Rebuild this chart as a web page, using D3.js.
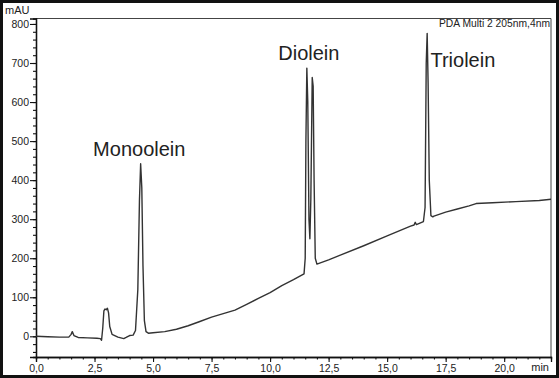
<!DOCTYPE html>
<html>
<head>
<meta charset="utf-8">
<script src="https://cdn.jsdelivr.net/npm/d3@7"></script>
<style>
	body { margin: 0; background: #fff; }
	svg { display: block; }
</style>
</head>
<body>
<svg id="svgChart"></svg>
<script>
// Chromatogram data (time in min, signal in mAU)
var times = [
	0.0, 0.5, 1.0, 1.4, 1.5, 1.55, 1.62, 1.8, 2.2, 2.6, 2.75, 2.8, 2.85, 2.9, 2.95, 3.0, 3.05, 3.1, 3.15, 3.25,
	3.5, 3.75, 3.85, 4.0, 4.15, 4.25, 4.35, 4.42, 4.47, 4.52, 4.57, 4.63, 4.7, 4.8, 5.0, 5.5, 6.0, 6.5, 7.0, 7.5,
	8.0, 8.5, 9.0, 9.5, 10.0, 10.5, 11.0, 11.45, 11.5, 11.53, 11.57, 11.61, 11.66, 11.7, 11.74, 11.8, 11.84, 11.88, 11.93, 12.0,
	12.5, 13.0, 14.0, 15.0, 16.0, 16.15, 16.2, 16.25, 16.55, 16.62, 16.67, 16.71, 16.75, 16.8, 16.87, 16.95, 17.0, 17.5, 18.0, 18.5,
	18.8, 19.5, 20.5, 21.5, 22.0
];
var signal = [
	0, -1, -2, -2, 5, 12, 2, -3, -4, -5, -6, -10, 20, 65, 70, 68, 72, 60, 25, 5,
	-2, -6, -3, 2, 3, 15, 120, 350, 442, 380, 180, 40, 12, 8, 9, 12, 18, 27, 38, 49,
	58, 67, 82, 97, 112, 130, 145, 160, 200, 500, 687, 600, 300, 250, 350, 663, 640, 400, 200, 185,
	196, 208, 232, 257, 282, 285, 292, 286, 294, 330, 700, 776, 650, 400, 309, 306, 308, 318, 326, 334,
	340, 342, 345, 348, 351
];

// Axis ticks
var xTicks = [0, 2.5, 5, 7.5, 10, 12.5, 15, 17.5, 20];
var yTicks = [0, 100, 200, 300, 400, 500, 600, 700, 800];

// Peak labels
var peakNames = ["Monoolein", "Diolein", "Triolein"];
var peakLabelX = [2.44, 10.35, 16.85];
var peakLabelY = [463, 708, 690];

var chart = { "width": 559, "height": 378 };

chart.draw = () => {
	let svg = d3.select("#svgChart")
		.attr("width", chart.width)
		.attr("height", chart.height);

	let margin = {top: 18.5, right: 8, bottom: 21, left: 36},
		x0 = margin.left, x1 = chart.width - margin.right,
		y0 = chart.height - margin.bottom, y1 = margin.top;

	// Scales
	let x = d3.scaleLinear().domain([0, 22]).range([x0, x1]);
	let y = d3.scaleLinear().domain([-53, 814]).range([y0, y1]);

	let font = "Arial, 'Liberation Sans', sans-serif";

	// Outer frame
	svg.append("rect")
		.attr("x", 1.5).attr("y", 1.5)
		.attr("width", chart.width - 3).attr("height", chart.height - 3)
		.attr("fill", "none")
		.attr("stroke", "#111")
		.attr("stroke-width", 3);

	// Plot frame (top and right)
	svg.append("path")
		.attr("d", "M" + x0 + "," + y1 + "H" + x1 + "V" + y0)
		.attr("fill", "none")
		.attr("stroke", "#444")
		.attr("stroke-width", 1);

	// X axis: minor then major ticks
	svg.append("g")
		.attr("transform", "translate(0," + y0 + ")")
		.call(d3.axisBottom(x)
			.tickValues(d3.range(0, 22.01, 0.5))
			.tickSize(2.5)
			.tickFormat(""));
	svg.append("g")
		.attr("class", "xmajor")
		.attr("transform", "translate(0," + y0 + ")")
		.call(d3.axisBottom(x)
			.tickValues(xTicks)
			.tickSize(5)
			.tickPadding(3)
			.tickFormat((d) => d3.format(".1f")(d).replace(".", ",")));

	// Y axis: minor then major ticks
	svg.append("g")
		.attr("transform", "translate(" + x0 + ",0)")
		.call(d3.axisLeft(y)
			.tickValues(d3.range(-40, 814, 20))
			.tickSize(3)
			.tickFormat(""));
	svg.append("g")
		.attr("class", "ymajor")
		.attr("transform", "translate(" + x0 + ",0)")
		.call(d3.axisLeft(y)
			.tickValues(yTicks)
			.tickSize(6)
			.tickPadding(1)
			.tickFormat(d3.format("d")));

	svg.selectAll(".domain").attr("stroke", "#111").attr("stroke-width", 1.3);
	svg.selectAll(".tick line").attr("stroke", "#111").attr("stroke-width", 1.1);
	svg.selectAll(".tick text")
		.style("font-family", font)
		.style("font-size", "10.5px")
		.attr("fill", "#222");
	svg.selectAll(".xmajor .tick text").attr("y", 8);

	// Axis titles
	svg.append("text")
		.attr("x", 5).attr("y", 14)
		.style("font-family", font).style("font-size", "11px")
		.attr("fill", "#222")
		.text("mAU");
	svg.append("text")
		.attr("x", 549).attr("y", 370.5)
		.attr("text-anchor", "end")
		.style("font-family", font).style("font-size", "11px")
		.attr("fill", "#222")
		.text("min");

	// Detector caption
	svg.append("text")
		.attr("x", 550).attr("y", 26.5)
		.attr("text-anchor", "end")
		.style("font-family", font).style("font-size", "10.3px")
		.attr("fill", "#222")
		.text("PDA Multi 2 205nm,4nm");

	// Trace
	let line = d3.line()
		.x((d, i) => x(times[i]))
		.y((d) => y(d));
	svg.append("path")
		.datum(signal)
		.attr("d", line)
		.attr("fill", "none")
		.attr("stroke", "#333")
		.attr("stroke-width", 1.4)
		.attr("stroke-linejoin", "round");

	// Peak labels
	svg.selectAll(".peak")
		.data(peakNames)
		.enter()
		.append("text")
		.attr("class", "peak")
		.attr("x", (d, i) => x(peakLabelX[i]))
		.attr("y", (d, i) => y(peakLabelY[i]))
		.style("font-family", font)
		.style("font-size", "20px")
		.attr("fill", "#222")
		.text((d) => d);
}

chart.draw();
</script>
</body>
</html>
